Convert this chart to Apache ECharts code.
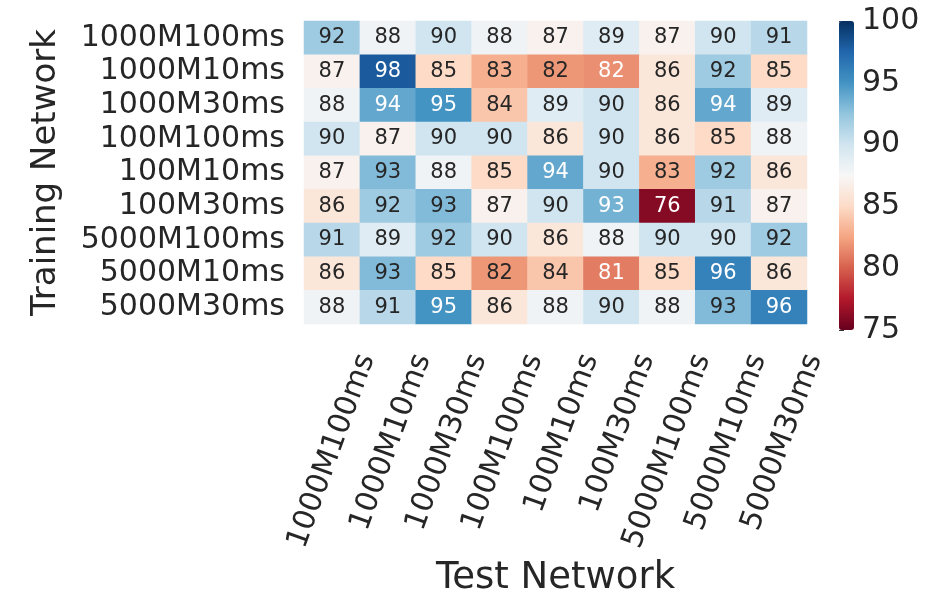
<!DOCTYPE html>
<html>
<head>
<meta charset="utf-8">
<script src="https://cdn.jsdelivr.net/npm/echarts@6/dist/echarts.min.js"></script>
<style>
html,body{margin:0;padding:0;background:#fff;}
#chart{width:943px;height:602px;}
</style>
</head>
<body>
<div id="chart"></div>
<script>
// Data
const trainNetworks = ['1000M100ms','1000M10ms','1000M30ms','100M100ms','100M10ms','100M30ms','5000M100ms','5000M10ms','5000M30ms'];
const testNetworks  = ['1000M100ms','1000M10ms','1000M30ms','100M100ms','100M10ms','100M30ms','5000M100ms','5000M10ms','5000M30ms'];
const row1000M100ms = [92, 88, 90, 88, 87, 89, 87, 90, 91];
const row1000M10ms  = [87, 98, 85, 83, 82, 81.7, 86, 92, 85];
const row1000M30ms  = [88, 94, 95, 84, 89, 90, 86, 94, 89];
const row100M100ms  = [90, 87, 90, 90, 86, 90, 86, 85, 88];
const row100M10ms   = [87, 93, 88, 85, 94, 90, 83, 92, 86];
const row100M30ms   = [86, 92, 93, 87, 90, 93.45, 76, 91, 87];
const row5000M100ms = [91, 89, 92, 90, 86, 88, 90, 90, 92];
const row5000M10ms  = [86, 93, 85, 82, 84, 81, 85, 96, 86];
const row5000M30ms  = [88, 91, 95, 86, 88, 90, 88, 93, 96];
const colorbarTicks = [75, 80, 85, 90, 95, 100];

const rows = [row1000M100ms,row1000M10ms,row1000M30ms,row100M100ms,row100M10ms,row100M30ms,row5000M100ms,row5000M10ms,row5000M30ms];
const vmin = colorbarTicks[0], vmax = colorbarTicks[colorbarTicks.length-1];
const RdBu = ['#67001f','#b2182b','#d6604d','#f4a582','#fddbc7','#f7f7f7','#d1e5f0','#92c5de','#4393c3','#2166ac','#053061'];

function hex2rgb(h){return [parseInt(h.substr(1,2),16),parseInt(h.substr(3,2),16),parseInt(h.substr(5,2),16)];}
function cmap(v){
  let t=(v-vmin)/(vmax-vmin); t=Math.max(0,Math.min(1,t));
  const p=t*(RdBu.length-1); const i=Math.min(Math.floor(p),RdBu.length-2); const f=p-i;
  const a=hex2rgb(RdBu[i]), b=hex2rgb(RdBu[i+1]);
  return [0,1,2].map(k=>a[k]+(b[k]-a[k])*f);
}
function lum(rgb){
  const c=rgb.map(x=>{x/=255;return x<=0.03928?x/12.92:Math.pow((x+0.055)/1.055,2.4);});
  return 0.2126*c[0]+0.7152*c[1]+0.0722*c[2];
}

const data=[];
rows.forEach((r,ri)=>r.forEach((v,ci)=>{
  const dark = lum(cmap(v)) > 0.408;
  data.push({value:[ci,ri,v],label:{color: dark ? '#262626' : '#ffffff'}});
}));

const FONT = '"DejaVu Sans", sans-serif';
const chart = echarts.init(document.getElementById('chart'), null, {renderer:'canvas'});
chart.setOption({
  backgroundColor:'#ffffff',
  animation:false,
  textStyle:{fontFamily:FONT},
  grid:[
    {left:304, top:21, width:503, height:309, containLabel:false},
    {left:839, top:21, width:15, height:309, containLabel:false}
  ],
  xAxis:[
    {type:'category', data:testNetworks, gridIndex:0,
     axisLine:{show:false}, axisTick:{show:false}, splitLine:{show:false},
     axisLabel:{interval:0, rotate:70, align:'center', verticalAlign:'middle', margin:127,
       formatter:v=>'{a|'+v+'}',
       rich:{a:{width:204, align:'right', fontSize:30, fontFamily:FONT, color:'#262626'}}},
     name:'Test Network', nameLocation:'middle', nameGap:233,
     nameTextStyle:{fontSize:37, fontFamily:FONT, color:'#262626'}},
    {type:'value', gridIndex:1, show:false, min:0, max:1}
  ],
  yAxis:[
    {type:'category', data:trainNetworks, gridIndex:0, inverse:true,
     axisLine:{show:false}, axisTick:{show:false}, splitLine:{show:false},
     axisLabel:{interval:0, margin:19, fontSize:30, fontFamily:FONT, color:'#262626'},
     name:'Training Network', nameLocation:'middle', nameGap:241, nameRotate:90,
     nameTextStyle:{fontSize:34, fontFamily:FONT, color:'#262626'}},
    {type:'value', gridIndex:1, position:'right', min:vmin, max:vmax, interval:5,
     axisLine:{show:false}, splitLine:{show:false},
     axisTick:{show:true, length:5, lineStyle:{color:'#333333', width:1}},
     axisLabel:{margin:8, fontSize:30, fontFamily:FONT, color:'#262626',
       formatter:v=>colorbarTicks.indexOf(v)>=0?String(v):''}}
  ],
  visualMap:{
    type:'continuous', min:vmin, max:vmax, seriesIndex:0,
    inRange:{color:RdBu}, calculable:false, hoverLink:false,
    orient:'vertical', left:839, top:21, itemWidth:15, itemHeight:309,
    padding:0, text:null, showLabel:false
  },
  series:[{
    type:'heatmap', xAxisIndex:0, yAxisIndex:0, data:data,
    label:{show:true, fontSize:21, fontFamily:FONT, formatter:p=>String(Math.round(p.value[2]))},
    itemStyle:{borderWidth:0},
    emphasis:{disabled:true}
  }]
});
</script>
</body>
</html>
